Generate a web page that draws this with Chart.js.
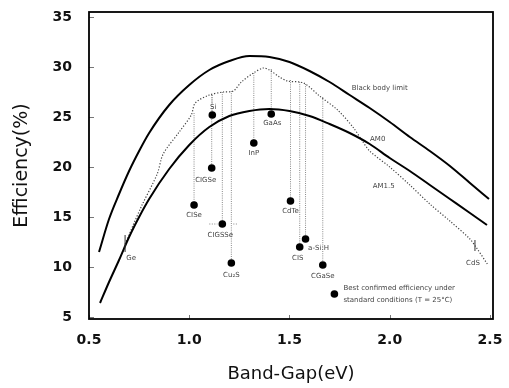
<!DOCTYPE html>
<html><head><meta charset="utf-8">
<script src="https://cdn.jsdelivr.net/npm/chart.js@4/dist/chart.umd.min.js"></script>
<style>html,body{margin:0;padding:0;background:#fff}#wrap{width:509px;height:388px;position:relative}</style>
</head><body><div id="wrap"><canvas id="c" width="509" height="388"></canvas></div>
<script>
const xTickValues = [0.5, 1.0, 1.5, 2.0, 2.5];
const yTickValues = [5, 10, 15, 20, 25, 30, 35];

const blackBodyGap = [0.55,0.6,0.65,0.7,0.75,0.8,0.9,1.0,1.1,1.2,1.3,1.4,1.5,1.6,1.7,1.8,1.9,2.0,2.1,2.2,2.3,2.4,2.495];
const blackBodyEff = [11.5,14.8,17.3,19.6,21.6,23.4,26.2,28.2,29.7,30.6,31.1,31.0,30.5,29.6,28.5,27.2,25.9,24.5,23.0,21.6,20.1,18.4,16.8];

const am15Gap = [0.555,0.6,0.65,0.7,0.75,0.8,0.9,1.0,1.1,1.2,1.3,1.4,1.5,1.6,1.7,1.8,1.9,2.0,2.1,2.2,2.3,2.4,2.485];
const am15Eff = [6.4,8.5,10.7,13.0,15.0,16.8,19.8,22.2,24.0,25.1,25.6,25.8,25.6,25.1,24.3,23.4,22.3,20.9,19.6,18.2,16.8,15.4,14.2];

const am0Gap = [0.68,0.76,0.84,0.87,0.95,1.01,1.03,1.1,1.17,1.22,1.26,1.32,1.37,1.40,1.45,1.49,1.57,1.65,1.74,1.82,1.86,1.9,2.0,2.1,2.2,2.3,2.4,2.43,2.49];
const am0Eff = [12.3,16.0,19.3,21.3,23.5,25.2,26.4,27.2,27.5,27.6,28.5,29.4,29.9,29.7,29.0,28.6,28.4,27.1,25.7,23.9,22.7,21.6,20.0,18.2,16.3,14.6,12.8,12.0,10.2];

const materials = ['CISe','Si','CIGSe','CIGSSe','Cu\u2082S','InP','GaAs','CdTe','CIS','a-Si:H','CGaSe'];
const materialGap = [1.024,1.115,1.112,1.165,1.21,1.322,1.409,1.505,1.551,1.58,1.666];
const materialEff = [16.2,25.2,19.9,14.3,10.4,22.4,25.3,16.6,12.0,12.8,10.2];
const dropTop = [25.4,27.2,27.2,27.5,27.6,29.4,29.8,28.7,28.5,28.3,27.0];

const legendGap = [1.724];
const legendEff = [7.3];
const legendText = ['Best confirmed efficiency under', 'standard conditions (T = 25\u00B0C)'];

const curveNames = ['Black body limit', 'AM0', 'AM1.5'];

const zip = (xs, ys) => xs.map((v, i) => ({x: v, y: ys[i]}));

const dropSets = materials.map((m, i) => ({
  label: 'drop ' + m,
  data: [{x: materialGap[i], y: dropTop[i]}, {x: materialGap[i], y: materialEff[i]}],
  showLine: true, borderColor: '#8a8a8a', borderWidth: 1, borderDash: [1, 1.2],
  pointRadius: 0, order: 3
}));

const annot = {
  id: 'annot',
  afterDatasetsDraw(chart) {
    const {ctx, scales: {x, y}, chartArea: a} = chart;
    const px = v => x.getPixelForValue(v), py = v => y.getPixelForValue(v);
    ctx.save();
    ctx.strokeStyle = '#333'; ctx.lineWidth = 1;
    ctx.beginPath();
    ctx.moveTo(px(0.68), py(13.2)); ctx.lineTo(px(0.68), py(11.5));
    ctx.moveTo(px(2.425), py(12.7)); ctx.lineTo(px(2.425), py(11.6));
    ctx.stroke();
    ctx.strokeStyle = '#888'; ctx.setLineDash([1, 1.5]);
    ctx.beginPath();
    ctx.moveTo(px(1.10), py(14.3)); ctx.lineTo(px(1.14), py(14.3));
    ctx.moveTo(px(1.22), py(14.3)); ctx.lineTo(px(1.24), py(14.3));
    ctx.stroke();
    ctx.setLineDash([]);

    ctx.fillStyle = '#444';
    ctx.font = '7px "DejaVu Sans"';
    ctx.textAlign = 'center'; ctx.textBaseline = 'middle';
    const offs = {'CISe':[0,10],'Si':[1,-8],'CIGSe':[-6,12],'CIGSSe':[-2,11],'Cu\u2082S':[0,12],'InP':[0,10],
      'GaAs':[1,9],'CdTe':[0,10],'CIS':[-2,11],'a-Si:H':[13,9],'CGaSe':[0,11]};
    materials.forEach((m, i) => {
      const o = offs[m];
      ctx.fillText(m, px(materialGap[i]) + o[0], py(materialEff[i]) + o[1]);
    });
    ctx.fillText('Ge', px(0.69) + 4, py(10.9));
    ctx.fillText('CdS', px(2.415), py(10.4));
    ctx.fillText(curveNames[0], px(1.95), py(27.9));
    ctx.fillText(curveNames[1], px(1.94), py(22.8));
    ctx.fillText(curveNames[2], px(1.97), py(18.1));
    ctx.textAlign = 'left';
    ctx.fillText(legendText[0], px(legendGap[0]) + 9, py(legendEff[0]) - 6);
    ctx.fillText(legendText[1], px(legendGap[0]) + 9, py(legendEff[0]) + 6);

    ctx.strokeStyle = '#777'; ctx.lineWidth = 1;
    ctx.beginPath();
    yTickValues.forEach(v => { const yy = Math.round(py(v)) + 0.5; ctx.moveTo(a.left, yy); ctx.lineTo(a.left + 5, yy); });
    xTickValues.forEach(v => { const xx = Math.round(px(v)) + 0.5; ctx.moveTo(xx, a.bottom); ctx.lineTo(xx, a.bottom - 4); });
    ctx.stroke();
    ctx.strokeStyle = '#000'; ctx.lineWidth = 1.8;
    ctx.strokeRect(a.left, a.top, a.right - a.left, a.bottom - a.top);
    ctx.restore();
  }
};

const hiddenGrid = len => ({display: true, drawOnChartArea: false, drawTicks: true, tickLength: len, tickColor: 'rgba(0,0,0,0)'});

new Chart(document.getElementById('c'), {
  type: 'scatter',
  data: {
    datasets: [
      {label: 'Best confirmed', data: zip(materialGap, materialEff), pointRadius: 3.8, pointBackgroundColor: '#000', pointBorderColor: '#000', pointBorderWidth: 0, order: 0},
      {label: 'legend', data: zip(legendGap, legendEff), pointRadius: 3.8, pointBackgroundColor: '#000', pointBorderColor: '#000', pointBorderWidth: 0, order: 0},
      {label: curveNames[0], data: zip(blackBodyGap, blackBodyEff), showLine: true, borderColor: '#000', borderWidth: 2, pointRadius: 0, cubicInterpolationMode: 'monotone', order: 1},
      {label: curveNames[2], data: zip(am15Gap, am15Eff), showLine: true, borderColor: '#000', borderWidth: 2, pointRadius: 0, cubicInterpolationMode: 'monotone', order: 1},
      {label: curveNames[1], data: zip(am0Gap, am0Eff), showLine: true, borderColor: '#444', borderWidth: 1.2, borderDash: [1.2, 1.8], pointRadius: 0, tension: 0.3, order: 2},
      ...dropSets
    ]
  },
  options: {
    responsive: false, animation: false, devicePixelRatio: 1,
    layout: {padding: {left: 0, right: 16, top: 12, bottom: 0}},
    plugins: {legend: {display: false}, tooltip: {enabled: false}},
    scales: {
      x: {
        type: 'linear', min: 0.5, max: 2.515,
        afterBuildTicks: s => { s.ticks = xTickValues.map(v => ({value: v})); },
        afterFit: s => { s.height = 69; },
        grid: hiddenGrid(13), border: {display: false},
        ticks: {padding: 0, color: '#111', font: {family: '"DejaVu Sans"', size: 14, weight: 'bold'}, callback: v => v.toFixed(1)},
        title: {display: true, text: 'Band-Gap(eV)', color: '#111', font: {family: '"DejaVu Sans"', size: 18}, padding: {top: 0, bottom: 3}}
      },
      y: {
        type: 'linear', min: 4.8, max: 35.5,
        afterBuildTicks: s => { s.ticks = yTickValues.map(v => ({value: v})); },
        afterFit: s => { s.width = 89; },
        grid: hiddenGrid(17), border: {display: false},
        ticks: {padding: 0, color: '#111', font: {family: '"DejaVu Sans"', size: 14, weight: 'bold'}},
        title: {display: true, text: 'Efficiency(%)', color: '#111', font: {family: '"DejaVu Sans"', size: 19}, padding: {top: 11, bottom: 0}}
      }
    }
  },
  plugins: [annot]
});
</script></body></html>
